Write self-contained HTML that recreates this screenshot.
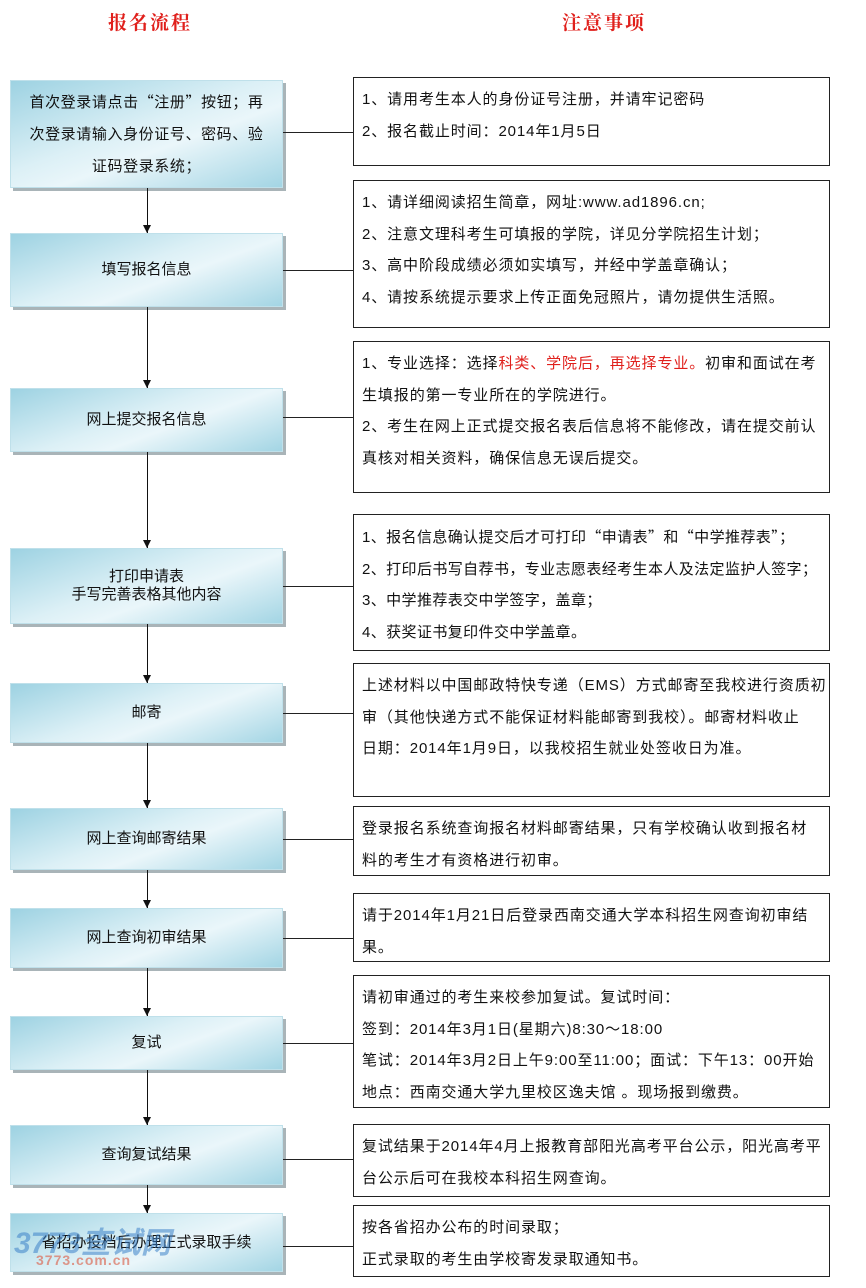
<!DOCTYPE html>
<html><head><meta charset="utf-8"><style>
body{margin:0;width:866px;height:1288px;background:#fff;position:relative;overflow:hidden;font-family:"Liberation Sans","Noto Sans CJK SC","WenQuanYi Zen Hei",sans-serif;font-size:15px;color:#111}
.t{position:absolute;top:8px;color:#e0201c;font-weight:bold;font-size:19px;font-family:"Liberation Serif","Noto Serif CJK SC",serif;letter-spacing:2px}
.l{position:absolute;left:10px;width:273px;background:linear-gradient(160deg,#9dd2e2 0%,#dcf0f6 45%,#eaf6fa 60%,#a3d5e4 100%);box-shadow:3px 3px 0 #a9b4b8;display:flex;align-items:center;justify-content:center;text-align:center;line-height:32px;box-sizing:border-box;padding:0 2px;border:1px solid #bfe0ea;white-space:nowrap}
.r{position:absolute;left:353px;width:477px;border:1px solid #222;box-sizing:border-box;padding:6px 6px 0 8px;line-height:31.5px;font-size:15px;letter-spacing:0.9px;white-space:nowrap;overflow:hidden}
.c{position:absolute;height:1px;background:#222;left:283px;width:70px}
.a{position:absolute;width:1px;background:#111}
.a:after{content:"";position:absolute;bottom:0;left:-4px;border-left:4.5px solid transparent;border-right:4.5px solid transparent;border-top:8px solid #111}
.red{color:#e0201c}
.q{font-family:"Noto Sans CJK SC",sans-serif}
</style></head><body>
<div class="t" style="left:108px">报名流程</div>
<div class="t" style="left:562px">注意事项</div>

<div class="l" style="top:80px;height:108px;letter-spacing:0.6px"><div>首次登录请点击<span class="q">“</span>注册<span class="q">”</span>按钮；再<br>次登录请输入身份证号、密码、验<br>证码登录系统；</div></div>
<div class="l" style="top:233px;height:74px"><div>填写报名信息</div></div>
<div class="l" style="top:388px;height:64px"><div>网上提交报名信息</div></div>
<div class="l" style="top:548px;height:76px;line-height:18px"><div>打印申请表<br>手写完善表格其他内容</div></div>
<div class="l" style="top:683px;height:60px"><div>邮寄</div></div>
<div class="l" style="top:808px;height:62px"><div>网上查询邮寄结果</div></div>
<div class="l" style="top:908px;height:60px"><div>网上查询初审结果</div></div>
<div class="l" style="top:1016px;height:54px"><div>复试</div></div>
<div class="l" style="top:1125px;height:60px"><div>查询复试结果</div></div>
<div class="l" style="top:1213px;height:59px"><div>省招办投档后办理正式录取手续</div></div>
<div style="position:absolute;left:14px;top:1218px;font-size:30px;font-weight:bold;font-style:italic;color:rgba(60,130,200,.55)">3773查试网</div>
<div style="position:absolute;left:36px;top:1252px;font-size:14px;font-weight:bold;color:rgba(220,110,90,.7);letter-spacing:1px">3773.com.cn</div>

<div class="a" style="left:147px;top:188px;height:45px"></div>
<div class="a" style="left:147px;top:307px;height:81px"></div>
<div class="a" style="left:147px;top:452px;height:96px"></div>
<div class="a" style="left:147px;top:624px;height:59px"></div>
<div class="a" style="left:147px;top:743px;height:65px"></div>
<div class="a" style="left:147px;top:870px;height:38px"></div>
<div class="a" style="left:147px;top:968px;height:48px"></div>
<div class="a" style="left:147px;top:1070px;height:55px"></div>
<div class="a" style="left:147px;top:1185px;height:28px"></div>

<div class="r" style="top:77px;height:89px">1、请用考生本人的身份证号注册，并请牢记密码<br>2、报名截止时间：2014年1月5日</div>
<div class="r" style="top:180px;height:148px">1、请详细阅读招生简章，网址:www.ad1896.cn;<br>2、注意文理科考生可填报的学院，详见分学院招生计划；<br>3、高中阶段成绩必须如实填写，并经中学盖章确认；<br>4、请按系统提示要求上传正面免冠照片，请勿提供生活照。</div>
<div class="r" style="top:341px;height:152px">1、专业选择：选择<span class="red">科类、学院后，再选择专业。</span>初审和面试在考<br>生填报的第一专业所在的学院进行。<br>2、考生在网上正式提交报名表后信息将不能修改，请在提交前认<br>真核对相关资料，确保信息无误后提交。</div>
<div class="r" style="top:514px;height:137px;letter-spacing:0.4px">1、报名信息确认提交后才可打印<span class="q">“</span>申请表<span class="q">”</span>和<span class="q">“</span>中学推荐表<span class="q">”</span>；<br>2、打印后书写自荐书，专业志愿表经考生本人及法定监护人签字；<br>3、中学推荐表交中学签字，盖章；<br>4、获奖证书复印件交中学盖章。</div>
<div class="r" style="top:663px;height:134px">上述材料以中国邮政特快专递（EMS）方式邮寄至我校进行资质初<br>审（其他快递方式不能保证材料能邮寄到我校）。邮寄材料收止<br>日期：2014年1月9日，以我校招生就业处签收日为准。</div>
<div class="r" style="top:806px;height:70px">登录报名系统查询报名材料邮寄结果，只有学校确认收到报名材<br>料的考生才有资格进行初审。</div>
<div class="r" style="top:893px;height:69px">请于2014年1月21日后登录西南交通大学本科招生网查询初审结<br>果。</div>
<div class="r" style="top:975px;height:133px">请初审通过的考生来校参加复试。复试时间：<br>签到：2014年3月1日(星期六)8:30～18:00<br>笔试：2014年3月2日上午9:00至11:00；面试：下午13：00开始<br>地点：西南交通大学九里校区逸夫馆 。现场报到缴费。</div>
<div class="r" style="top:1124px;height:73px">复试结果于2014年4月上报教育部阳光高考平台公示，阳光高考平<br>台公示后可在我校本科招生网查询。</div>
<div class="r" style="top:1205px;height:72px">按各省招办公布的时间录取；<br>正式录取的考生由学校寄发录取通知书。</div>

<div class="c" style="top:132px"></div>
<div class="c" style="top:270px"></div>
<div class="c" style="top:417px"></div>
<div class="c" style="top:586px"></div>
<div class="c" style="top:713px"></div>
<div class="c" style="top:839px"></div>
<div class="c" style="top:938px"></div>
<div class="c" style="top:1043px"></div>
<div class="c" style="top:1159px"></div>
<div class="c" style="top:1246px"></div>
</body></html>
